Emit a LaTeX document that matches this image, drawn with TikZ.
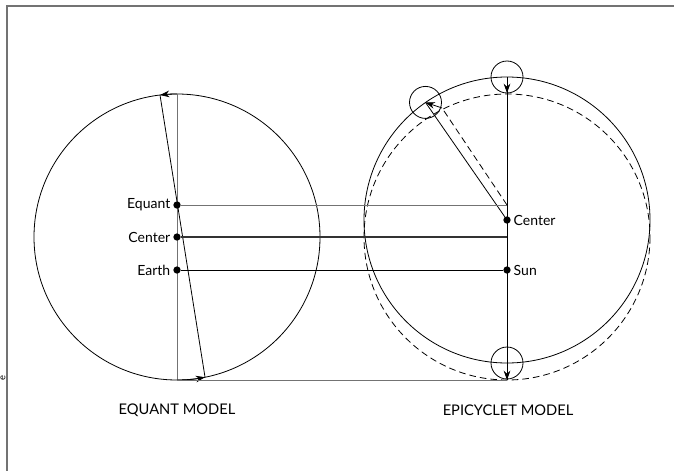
\documentclass[tikz,border=0pt]{standalone}
\usepackage{fontspec}
\setmainfont{Lato}
\usetikzlibrary{arrows.meta}
\begin{document}
\begin{tikzpicture}[x=0.75pt,y=-0.75pt,line width=0.6pt,
  lbl/.style={font=\fontsize{10.5}{12}\selectfont, inner sep=1pt},
  ttl/.style={font=\fontsize{11}{13}\selectfont, inner sep=1pt},
  dot/.style={circle,fill=black,inner sep=0pt,minimum size=5.5pt},
  grayline/.style={draw=black!55},
  tip/.style={-{Stealth[length=7pt,width=5pt]}},
  epi/.style={draw, line width=0.6pt}]
\useasboundingbox (0,0) rectangle (674,471);
% frame
\draw[black!55, line width=1.1pt] (674,6) -- (7,6) -- (7,471);
\node[rotate=90, font=\fontsize{7}{7}\selectfont, inner sep=0pt] (cut) at (3,378) {e};

% ---------- Equant model ----------
\coordinate (LC) at (177,237);
\coordinate (Ltop) at (177,94);
\coordinate (Lbot) at (177,380);
\coordinate (Ls1) at (160,95);
\coordinate (Ls2) at (205,377);
\draw (LC) circle (143);
\draw[grayline] (Ltop) -- (Lbot);
\draw (Ls1) -- (Ls2);
\draw[tip] (Ltop) arc[start angle=-90, end angle=-96.8, radius=143];
\draw[tip] (Lbot) arc[start angle=90, end angle=78.7, radius=143];
\node[dot] (eq) at (177,205) {};
\node[dot] (ce) at (177,237) {};
\node[dot] (ea) at (177,270) {};
\node[lbl, anchor=east] (eqL) at (172,205) {Equant};
\node[lbl, anchor=east] (ceL) at (172,237) {Center};
\node[lbl, anchor=east] (eaL) at (172,270) {Earth};

% ---------- Epicyclet model ----------
\coordinate (RC) at (507,220);
\coordinate (DC) at (507,237);
\coordinate (Req) at (507,205);
\coordinate (E1) at (507,77);
\coordinate (E2) at (507,363);
\coordinate (E3) at (425.5,102.4);
\coordinate (P1) at (507,93);
\coordinate (P2) at (507,380);
\coordinate (P3) at (442,108);
\draw (RC) circle (143);
\draw[dashed, dash pattern=on 5pt off 3pt] (DC) circle (143);
\draw[epi] (E1) circle (16);
\draw[epi] (E2) circle (16);
\draw[epi] (E3) circle (16);
\draw (E1) -- (P2);
\draw[tip] (E1) -- (P1);
\draw[tip] (E2) -- (P2);
\draw (RC) -- (E3);
\draw[dashed, dash pattern=on 5pt off 3pt] (Req) -- (P3);
\draw[tip] (P3) -- (E3);
\node[dot] (rc) at (RC) {};
\node[dot] (sun) at (507,270) {};
\node[lbl, anchor=west] (rcL) at (512,220) {Center};
\node[lbl, anchor=west] (sunL) at (512,270) {Sun};

% ---------- connecting lines ----------
\draw[grayline] (eq) -- (Req);
\draw[draw=black!80, line width=1.4pt] (ce) -- (DC);
\draw (ea) -- (sun);
\draw[grayline] (Lbot) -- (P2);

% titles
\node[ttl] (t1) at (177,410) {EQUANT MODEL};
\node[ttl] (t2) at (508,410) {EPICYCLET MODEL};
\end{tikzpicture}
\end{document}
